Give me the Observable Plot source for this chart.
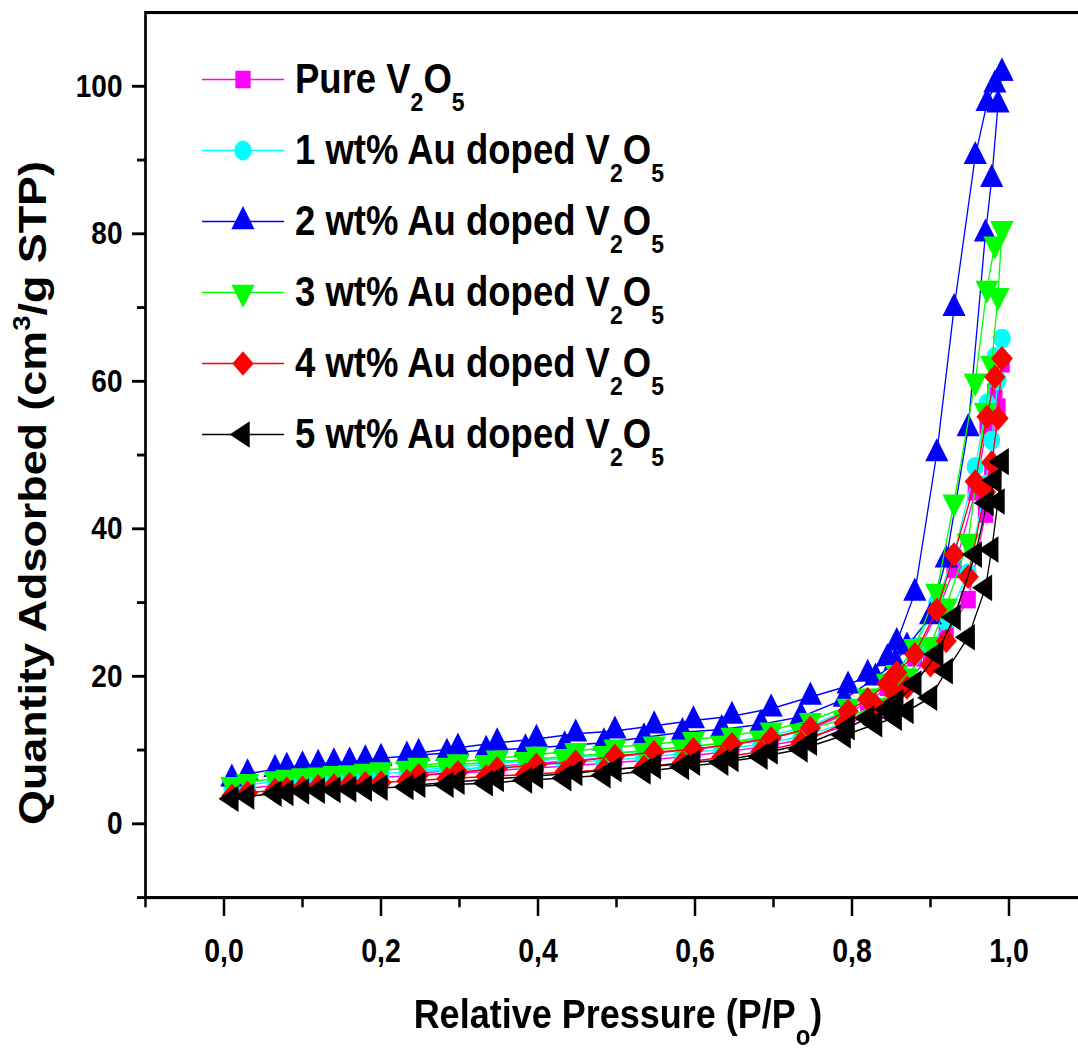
<!DOCTYPE html>
<html>
<head>
<meta charset="utf-8">
<script src="https://cdn.jsdelivr.net/npm/d3@7"></script>
<script src="https://cdn.jsdelivr.net/npm/@observablehq/plot@0.6"></script>
<style>
  html, body { margin: 0; padding: 0; background: #fff; overflow: hidden; }
  #wrap { width: 1078px; height: 1050px; overflow: hidden; position: relative; background: #fff; }
  #chart { transform-origin: 0 0; transform: scale(1, 1.15); }
  #chart svg { max-width: none !important; display: block; }
</style>
</head>
<body>
<div id="wrap"><div id="chart"></div></div>
<script>
// ---------- data ----------
// relative pressure P/Po of the adsorption and desorption points
const pAds = [0.01, 0.03, 0.065, 0.08, 0.10, 0.12, 0.14, 0.16, 0.18, 0.20,
              0.233, 0.284, 0.334, 0.384, 0.434, 0.484, 0.535, 0.584, 0.634, 0.684,
              0.735, 0.79, 0.83, 0.855, 0.87, 0.90, 0.92, 0.948, 0.97, 0.978, 0.986, 0.991];
const pDes = [0.991, 0.982, 0.972, 0.957, 0.93, 0.908, 0.88, 0.857, 0.845, 0.82, 0.795,
              0.747, 0.697, 0.647, 0.598, 0.548, 0.498, 0.448, 0.398, 0.348, 0.298, 0.248];

// quantity adsorbed (cm3/g STP)
const vPureAds = [4.4, 4.8, 5.2, 5.4, 5.6, 5.7, 5.9, 6.0, 6.1, 6.3,
                  6.5, 6.8, 7.1, 7.5, 7.8, 8.2, 8.6, 9.1, 9.7, 10.4,
                  11.4, 13.2, 15.5, 17.5, 19.0, 23.0, 25.5, 30.4, 42.0, 48.0, 56.5, 62.4];
const vPureDes = [62.4, 58.5, 54.0, 45.0, 34.5, 28.5, 22.5, 19.8, 18.5, 16.5, 15.0,
                  12.9, 11.6, 10.7, 10.1, 9.6, 9.1, 8.6, 8.2, 7.8, 7.3, 6.9];
const vAu1Ads = [4.9, 5.3, 5.7, 5.9, 6.0, 6.2, 6.3, 6.5, 6.6, 6.8,
                 7.0, 7.3, 7.6, 7.9, 8.2, 8.6, 9.0, 9.5, 10.1, 10.8,
                 11.8, 13.6, 16.0, 18.0, 19.8, 24.0, 27.5, 34.0, 46.0, 52.0, 60.1, 65.8];
const vAu1Des = [65.8, 63.3, 57.0, 48.4, 36.5, 30.0, 24.0, 20.5, 19.2, 17.0, 15.5,
                 13.3, 12.0, 11.1, 10.5, 10.0, 9.5, 9.0, 8.6, 8.2, 7.7, 7.3];
const vAu2Ads = [6.1, 6.8, 7.4, 7.7, 7.9, 8.1, 8.3, 8.4, 8.7, 8.9,
                 9.2, 9.6, 10.0, 10.2, 10.6, 11.0, 11.7, 12.4, 12.8, 13.5,
                 14.5, 16.9, 19.8, 21.9, 24.0, 28.1, 35.8, 53.6, 80.0, 87.4, 97.5, 101.8];
const vAu2Des = [101.8, 100.2, 97.7, 90.5, 69.9, 50.2, 31.3, 24.6, 22.4, 20.3, 18.7,
                 17.2, 15.6, 14.6, 14.0, 13.3, 12.6, 12.2, 11.5, 11.0, 10.3, 9.6];
const vAu3Ads = [5.3, 5.7, 6.1, 6.3, 6.5, 6.6, 6.8, 6.9, 7.1, 7.3,
                 7.5, 7.9, 8.3, 8.7, 9.1, 9.5, 9.9, 10.4, 10.9, 11.6,
                 12.5, 14.2, 16.0, 18.5, 20.0, 24.3, 29.5, 38.3, 56.0, 62.4, 71.6, 80.7];
const vAu3Des = [80.7, 78.6, 72.6, 60.0, 43.6, 31.5, 24.0, 20.5, 19.3, 17.3, 15.9,
                 14.0, 12.7, 12.0, 11.4, 10.8, 10.4, 9.9, 9.4, 8.9, 8.4, 7.9];
const vAu4Ads = [3.8, 4.2, 4.6, 4.8, 4.9, 5.1, 5.2, 5.4, 5.5, 5.6,
                 5.8, 6.1, 6.4, 6.7, 7.0, 7.3, 7.7, 8.3, 9.0, 9.8,
                 11.0, 13.6, 16.0, 17.5, 18.5, 21.5, 24.8, 33.5, 45.0, 49.0, 55.0, 63.1];
const vAu4Des = [63.1, 60.6, 55.2, 46.4, 36.5, 29.0, 23.0, 20.5, 19.0, 16.9, 15.3,
                 13.0, 11.6, 10.8, 10.1, 9.7, 9.2, 8.4, 8.0, 7.5, 7.0, 6.6];
const vAu5Ads = [3.4, 3.7, 4.1, 4.2, 4.4, 4.5, 4.6, 4.7, 4.8, 4.9,
                 5.0, 5.3, 5.5, 5.9, 6.2, 6.6, 7.1, 7.7, 8.3, 9.1,
                 10.1, 12.0, 13.5, 14.4, 15.3, 17.1, 20.7, 25.3, 32.0, 37.2, 43.7, 49.1];
const vAu5Des = [49.1, 46.6, 43.5, 36.5, 28.0, 23.0, 19.0, 16.5, 15.5, 14.3, 13.1,
                 11.0, 9.8, 8.8, 8.3, 7.8, 7.4, 6.9, 6.5, 6.1, 5.7, 5.3];

const legendPrefix = ["Pure ", "1 wt% Au doped ", "2 wt% Au doped ",
                      "3 wt% Au doped ", "4 wt% Au doped ", "5 wt% Au doped "];
const xTicksMajor = [0, 0.2, 0.4, 0.6, 0.8, 1.0];
const xTicksMinor = [-0.1, 0.1, 0.3, 0.5, 0.7, 0.9];
const yTicksMajor = [0, 20, 40, 60, 80, 100];
const yTicksMinor = [-10, 10, 30, 50, 70, 90];

// ---------- styling ----------
const colors = ["#ff00ff", "#00ffff", "#0000ff", "#00ff00", "#ff0000", "#000000"];
const symbolNames = ["square", "circle", "triangle", "triangle", "diamond2", "triangle"];
const d3Symbols = [d3.symbolSquare, d3.symbolCircle, d3.symbolTriangle, d3.symbolTriangle, d3.symbolDiamond2, d3.symbolTriangle];
const rotations = [0, 0, 0, 180, 0, -90];
const radii = [8.6, 8.6, 8.6, 8.6, 9.6, 8.6];

const S = 1.15;               // vertical stretch of the original figure
const W = 1087, H = 913;
const FONT = "'Liberation Sans', Arial, Helvetica, sans-serif";

const adsSets = [vPureAds, vAu1Ads, vAu2Ads, vAu3Ads, vAu4Ads, vAu5Ads];
const desSets = [vPureDes, vAu1Des, vAu2Des, vAu3Des, vAu4Des, vAu5Des];

const rows = [];
adsSets.forEach((vs, k) => vs.forEach((v, i) => rows.push({k, branch: "ads", P: pAds[i], V: v})));
desSets.forEach((vs, k) => vs.forEach((v, i) => rows.push({k, branch: "des", P: pDes[i], V: v})));

const marks = [];
for (let k = 0; k < 6; k++) {
  const sub = rows.filter(d => d.k === k);
  marks.push(Plot.line(sub, {x: "P", y: "V", z: "branch", stroke: colors[k], strokeWidth: 1.3}));
  marks.push(Plot.dot(sub, {x: "P", y: "V", symbol: symbolNames[k], r: radii[k],
                            fill: colors[k], stroke: "none", rotate: rotations[k]}));
}

const chart = Plot.plot({
  width: W, height: H,
  marginLeft: 145, marginRight: 0, marginTop: 10.4, marginBottom: 133,
  style: {background: "white", fontFamily: FONT, fontWeight: "bold", color: "black", maxWidth: "none", overflow: "visible"},
  x: {domain: [-0.1, 1.1], label: null},
  y: {domain: [-10, 110], label: null},
  marks: [
    ...marks,
    Plot.axisX(xTicksMinor, {tickSize: 9, tickFormat: () => "", strokeWidth: 2.5}),
    Plot.axisX(xTicksMajor, {tickSize: 16.5, tickPadding: 19, fontSize: 28.5, strokeWidth: 2.5,
                             tickFormat: d => d.toFixed(1).replace(".", ",")}),
    Plot.axisY(yTicksMinor, {tickSize: 8, tickFormat: () => "", strokeWidth: 2.5}),
    Plot.axisY(yTicksMajor, {tickSize: 13, tickPadding: 10, fontSize: 28, strokeWidth: 2.5}),
    Plot.frame({stroke: "black", strokeWidth: 2.7})
  ]
});
document.getElementById("chart").appendChild(chart);

// ---------- titles and legend ----------
const svg = d3.select(chart);
const g = svg.append("g").attr("font-family", FONT).attr("font-weight", "bold").attr("fill", "black");

const xt = g.append("text").attr("x", 618).attr("y", 1028 / S)
  .attr("text-anchor", "middle").attr("font-size", 36);
xt.append("tspan").text("Relative Pressure (P/P");
xt.append("tspan").attr("font-size", 24).attr("dy", 15).text("o");
xt.append("tspan").attr("dy", -15).text(")");

const yt = g.append("text").attr("transform", `translate(46, ${493 / S}) rotate(-90)`)
  .attr("text-anchor", "middle").attr("font-size", 39);
yt.append("tspan").text("Quantity Adsorbed (cm");
yt.append("tspan").attr("font-size", 24).attr("dy", -16).text("3");
yt.append("tspan").attr("dy", 16).text("/g STP)");

legendPrefix.forEach((pre, k) => {
  const cy = (79.5 + 71 * k) / S;
  g.append("line").attr("x1", 202).attr("x2", 284).attr("y1", cy).attr("y2", cy)
    .attr("stroke", colors[k]).attr("stroke-width", 1.3);
  g.append("path")
    .attr("d", d3.symbol(d3Symbols[k], Math.PI * radii[k] * radii[k])())
    .attr("transform", `translate(243, ${cy}) rotate(${rotations[k]})`)
    .attr("fill", colors[k]);
  const t = g.append("text").attr("x", 295).attr("y", (79.5 + 71 * k + 14) / S)
    .attr("text-anchor", "start").attr("font-size", 36.5);
  t.append("tspan").text(pre + "V");
  t.append("tspan").attr("font-size", 23).attr("dy", 14.8).text("2");
  t.append("tspan").attr("dy", -14.8).text("O");
  t.append("tspan").attr("font-size", 23).attr("dy", 14.8).text("5");
});
</script>
</body>
</html>
